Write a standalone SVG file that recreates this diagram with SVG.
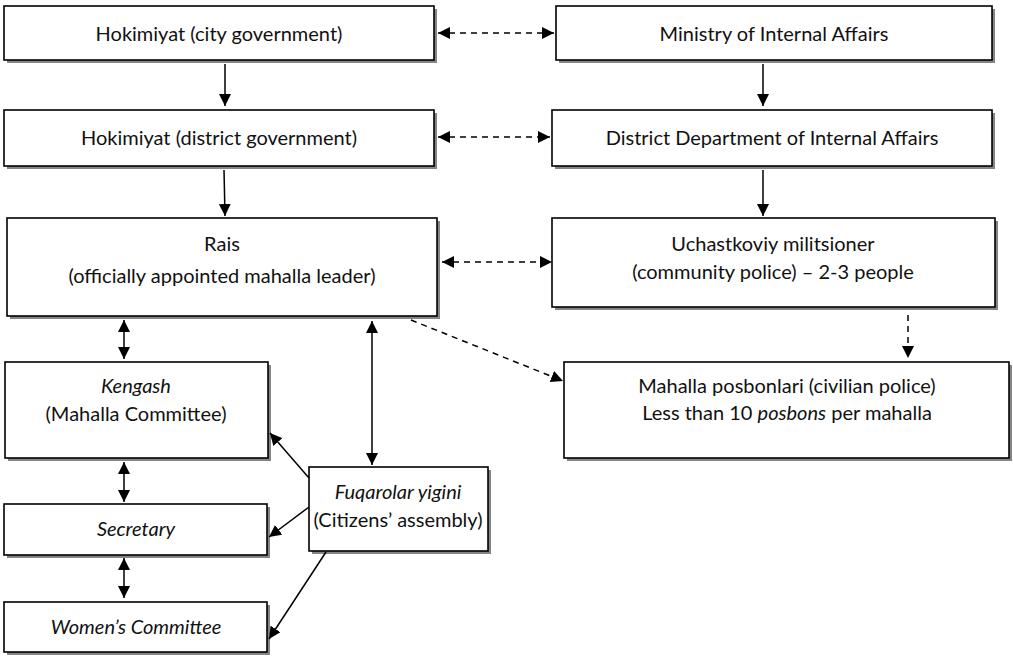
<svg xmlns="http://www.w3.org/2000/svg" width="1013" height="660" viewBox="0 0 1013 660">
  <defs>
    <marker id="arrow" viewBox="0 0 10 10" refX="10" refY="5" markerWidth="12" markerHeight="12" markerUnits="userSpaceOnUse" orient="auto-start-reverse">
      <path d="M0,0 L10,5 L0,10 Z" fill="#000"/>
    </marker>
  </defs>
  <style>
    .shadow { fill: #858585; }
    .box { fill: #fff; stroke: #000; stroke-width: 1.6; }
    text { font-family: Lato, "Liberation Sans", sans-serif; font-size: 20px; fill: #111; text-anchor: middle; dominant-baseline: central; }
    .it { font-style: italic; }
    .solid { stroke: #000; stroke-width: 1.5; fill: none; }
    .dash { stroke: #000; stroke-width: 1.5; fill: none; stroke-dasharray: 6 5; }
  </style>
  <rect width="1013" height="660" fill="#fff"/>

  <!-- nodes -->
  <g id="hokimiyat-city">
    <rect class="shadow" x="7" y="9" width="430" height="54"/>
    <rect class="box" x="4" y="6" width="430" height="54"/>
    <text x="219" y="33">Hokimiyat (city government)</text>
  </g>
  <g id="ministry">
    <rect class="shadow" x="559" y="9" width="436" height="54"/>
    <rect class="box" x="556" y="6" width="436" height="54"/>
    <text x="774" y="33">Ministry of Internal Affairs</text>
  </g>
  <g id="hokimiyat-district">
    <rect class="shadow" x="7" y="113" width="430" height="56"/>
    <rect class="box" x="4" y="110" width="430" height="56"/>
    <text x="219" y="137">Hokimiyat (district government)</text>
  </g>
  <g id="district-department">
    <rect class="shadow" x="555" y="113" width="440" height="56"/>
    <rect class="box" x="552" y="110" width="440" height="56"/>
    <text x="772" y="137">District Department of Internal Affairs</text>
  </g>
  <g id="rais">
    <rect class="shadow" x="10" y="221" width="430" height="98"/>
    <rect class="box" x="7" y="218" width="430" height="98"/>
    <text x="222" y="243">Rais</text>
    <text x="222" y="275">(officially appointed mahalla leader)</text>
  </g>
  <g id="uchastkoviy">
    <rect class="shadow" x="555" y="221" width="443" height="89"/>
    <rect class="box" x="552" y="218" width="443" height="89"/>
    <text x="773" y="243">Uchastkoviy militsioner</text>
    <text x="773" y="271">(community police) – 2-3 people</text>
  </g>
  <g id="kengash">
    <rect class="shadow" x="8" y="365" width="263" height="96"/>
    <rect class="box" x="5" y="362" width="263" height="96"/>
    <text class="it" x="136" y="385">Kengash</text>
    <text x="136" y="413">(Mahalla Committee)</text>
  </g>
  <g id="posbonlari">
    <rect class="shadow" x="567" y="365" width="445" height="96"/>
    <rect class="box" x="564" y="362" width="445" height="96"/>
    <text x="787" y="385">Mahalla posbonlari (civilian police)</text>
    <text x="787" y="412">Less than 10 <tspan class="it">posbons</tspan> per mahalla</text>
  </g>
  <g id="fuqarolar">
    <rect class="shadow" x="312" y="470" width="179" height="84"/>
    <rect class="box" x="309" y="467" width="179" height="84"/>
    <text class="it" x="398" y="491">Fuqarolar yigini</text>
    <text x="398" y="519">(Citizens’ assembly)</text>
  </g>
  <g id="secretary">
    <rect class="shadow" x="7" y="507" width="263" height="51"/>
    <rect class="box" x="4" y="504" width="263" height="51"/>
    <text class="it" x="136" y="528">Secretary</text>
  </g>
  <g id="womens-committee">
    <rect class="shadow" x="7" y="605" width="263" height="50"/>
    <rect class="box" x="4" y="602" width="263" height="50"/>
    <text class="it" x="136" y="626">Women’s Committee</text>
  </g>

  <!-- connectors -->
  <g id="connectors">
    <line class="solid" x1="225" y1="64" x2="225" y2="106" marker-end="url(#arrow)"/>
    <line class="solid" x1="763" y1="64" x2="763" y2="106" marker-end="url(#arrow)"/>
    <line class="solid" x1="224" y1="170" x2="225" y2="216" marker-end="url(#arrow)"/>
    <line class="solid" x1="763" y1="170" x2="763" y2="216" marker-end="url(#arrow)"/>
    <line class="dash" x1="438" y1="33" x2="554" y2="33" marker-start="url(#arrow)" marker-end="url(#arrow)"/>
    <line class="dash" x1="438" y1="137" x2="550" y2="137" marker-start="url(#arrow)" marker-end="url(#arrow)"/>
    <line class="dash" x1="442" y1="262" x2="552" y2="262" marker-start="url(#arrow)" marker-end="url(#arrow)"/>
    <line class="dash" x1="908" y1="315" x2="908" y2="358" marker-end="url(#arrow)"/>
    <line class="dash" x1="411" y1="320" x2="563" y2="381" marker-end="url(#arrow)"/>
    <line class="solid" x1="124" y1="320" x2="124" y2="359" marker-start="url(#arrow)" marker-end="url(#arrow)"/>
    <line class="solid" x1="372" y1="321" x2="372" y2="465" marker-start="url(#arrow)" marker-end="url(#arrow)"/>
    <line class="solid" x1="124" y1="462" x2="124" y2="502" marker-start="url(#arrow)" marker-end="url(#arrow)"/>
    <line class="solid" x1="124" y1="558" x2="124" y2="598" marker-start="url(#arrow)" marker-end="url(#arrow)"/>
    <line class="solid" x1="309" y1="478" x2="270" y2="433" marker-end="url(#arrow)"/>
    <line class="solid" x1="309" y1="507" x2="269" y2="537" marker-end="url(#arrow)"/>
    <line class="solid" x1="326" y1="552" x2="269" y2="639" marker-end="url(#arrow)"/>
  </g>
</svg>
